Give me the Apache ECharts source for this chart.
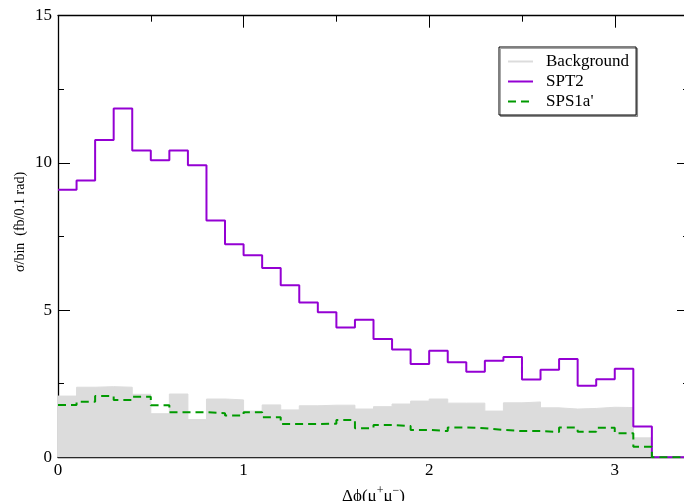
<!DOCTYPE html>
<html>
<head>
<meta charset="utf-8">
<script src="https://cdn.jsdelivr.net/npm/echarts@6/dist/echarts.min.js"></script>
<style>
html,body{margin:0;padding:0;background:#fff;overflow:hidden;}
#c{width:684px;height:501px;}
</style>
</head>
<body>
<div id="c"></div>
<script>
// bin left edges (rad) and final right edge
var binEdges = [0,0.1,0.2,0.3,0.4,0.5,0.6,0.7,0.8,0.9,1.0,1.1,1.2,1.3,1.4,1.5,1.6,1.7,1.8,1.9,2.0,2.1,2.2,2.3,2.4,2.5,2.6,2.7,2.8,2.9,3.0,3.1,3.2,3.3,3.4];
var background = [2.08,2.38,2.40,2.38,2.14,1.48,2.15,1.28,1.98,1.95,1.57,1.78,1.61,1.75,1.77,1.77,1.64,1.72,1.81,1.91,1.98,1.84,1.84,1.57,1.85,1.88,1.68,1.64,1.66,1.70,1.69,0.66,0,0];
var spt2 = [9.09,9.40,10.78,11.85,10.42,10.09,10.42,9.92,8.04,7.24,6.86,6.43,5.84,5.26,4.93,4.41,4.67,4.02,3.66,3.17,3.62,3.23,2.91,3.28,3.41,2.64,2.97,3.34,2.43,2.65,3.01,1.05,0,0];
var sps1a = [1.78,1.89,2.08,1.95,2.06,1.77,1.53,1.53,1.50,1.42,1.53,1.36,1.13,1.13,1.14,1.27,0.99,1.10,1.06,0.93,0.89,1.01,0.99,0.93,0.89,0.89,0.86,1.01,0.87,1.00,0.82,0.36,0,0];
var xMajorTicks = [0,1,2,3];
var xMinorTicks = [0.5,1.5,2.5];

function hist(vals){
  var d = [];
  for (var i = 0; i < vals.length; i++) d.push([binEdges[i], vals[i]]);
  d.push([binEdges[vals.length], vals[vals.length-1]]);
  return d;
}

var FONT = 'Liberation Serif';
var chart = echarts.init(document.getElementById('c'), null, {renderer:'canvas'});

function xAx(pos, ticks, len, labels, line){
  return {
    type:'value', position:pos, min:0, max:3.4,
    axisLine:{show:line, onZero:false, lineStyle:{color:'#000', width:1.3}},
    axisTick:{show:true, inside:true, length:len, customValues:ticks, lineStyle:{color:'#000', width:1}},
    axisLabel:{show:labels, customValues:labels?ticks:undefined, margin:5, color:'#000', fontFamily:FONT, fontSize:17},
    splitLine:{show:false}
  };
}
function yAx(pos, labels){
  return {
    type:'value', position:pos, min:0, max:15, interval:5,
    axisLine:{show:true, onZero:false, lineStyle:{color:'#000', width:1.3}},
    axisTick:{show:true, inside:true, length:12, lineStyle:{color:'#000', width:1}},
    minorTick:{show:true, splitNumber:2, length:6, lineStyle:{color:'#000', width:1}},
    axisLabel:{show:labels, margin:6, color:'#000', fontFamily:FONT, fontSize:17},
    splitLine:{show:false}, minorSplitLine:{show:false}
  };
}

var xs = [
  xAx('bottom', xMajorTicks, 12, true, true),
  xAx('top', xMajorTicks, 12, false, true),
  xAx('bottom', xMinorTicks, 6, false, false),
  xAx('top', xMinorTicks, 6, false, false)
];
xs[0].name = 'Δϕ(μ{sup|+}μ{sup|−})';
xs[0].nameLocation = 'middle';
xs[0].nameGap = 28;
xs[0].nameTextStyle = {
  fontFamily:FONT, fontSize:17, color:'#000', lineHeight:22,
  rich:{sup:{fontFamily:FONT, fontSize:12, lineHeight:12, verticalAlign:'top', color:'#000'}}
};

var option = {
  animation:false,
  backgroundColor:'#fff',
  grid:{left:58, top:15.7, width:631, height:441.6, containLabel:false, outerBoundsMode:'none'},
  xAxis: xs,
  yAxis: [yAx('left', true), yAx('right', false)],
  legend:{
    orient:'vertical', left:499, top:47, padding:[6,7,5,8],
    itemWidth:25, itemHeight:2, itemGap:3,
    borderColor:'#000', borderWidth:1, backgroundColor:'#fff',
    shadowColor:'rgba(0,0,0,0.35)', shadowOffsetX:1.5, shadowOffsetY:1.5, shadowBlur:0,
    itemStyle:{opacity:0},
    textStyle:{fontFamily:FONT, fontSize:17, color:'#000', padding:[0,0,0,8], lineHeight:17},
    data:[{name:'Background', lineStyle:{color:'#dcdcdc', width:2}}, 'SPT2', "SPS1a'"]
  },
  graphic:[{
    type:'text', x:20, y:222, rotation:Math.PI/2,
    style:{text:'σ/bin  (fb/0.1 rad)', fontFamily:FONT, fontSize:14, fill:'#000', align:'center', verticalAlign:'middle'}
  }],
  series:[
    {name:'Background', type:'line', step:'end', data:hist(background), symbol:'none',
     lineStyle:{color:'#dcdcdc', width:1}, itemStyle:{color:'#dcdcdc'},
     areaStyle:{color:'#dcdcdc', opacity:1}, z:1},
    {name:'SPT2', type:'line', step:'end', data:hist(spt2), symbol:'none',
     lineStyle:{color:'#9400d3', width:2}, itemStyle:{color:'#9400d3'}, z:2},
    {name:"SPS1a'", type:'line', step:'end', data:hist(sps1a), symbol:'none',
     lineStyle:{color:'#009a00', width:2, type:[8,5]}, itemStyle:{color:'#009a00'}, z:3}
  ]
};
chart.setOption(option);
</script>
</body>
</html>
